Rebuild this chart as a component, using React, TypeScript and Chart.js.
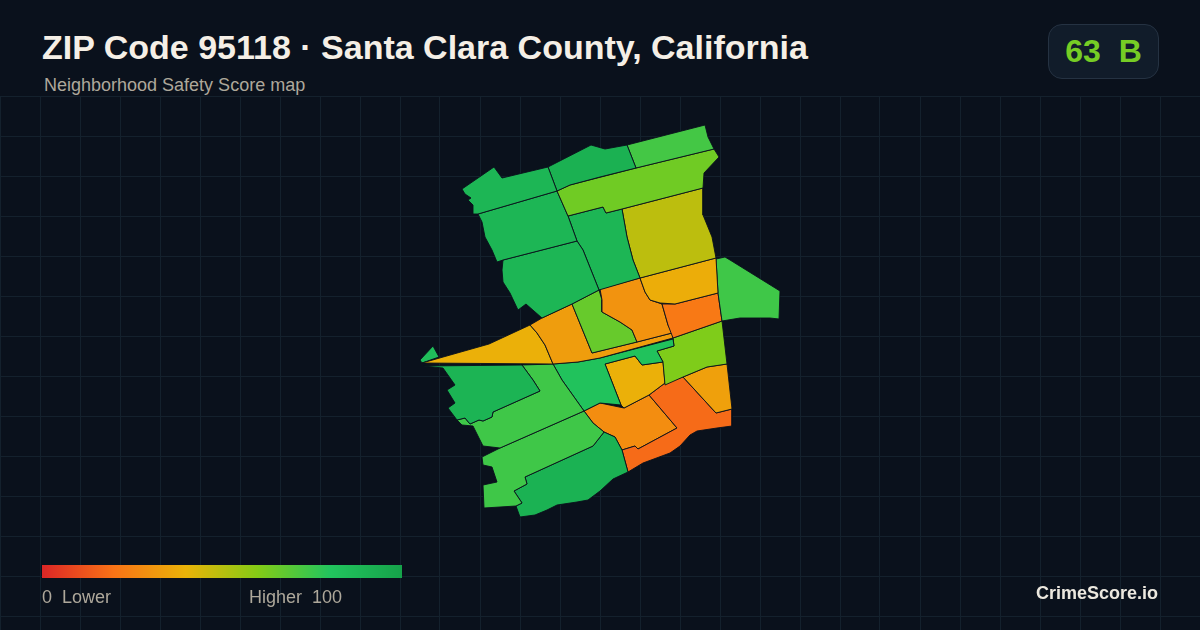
import React, { useEffect, useRef } from "react";
import { Chart, registerables } from "chart.js";

Chart.register(...registerables);

const xGrid = [0,40,80,120,160,200,240,280,320,360,400,440,480,520,560,600,640,680,720,760,800,840,880,920,960,1000,1040,1080,1120,1160,1200];
const yGrid = [96,136,176,216,256,296,336,376,416,456,496,536,576,616];

const rampStops = [0, 20, 40, 60, 80, 100];
const rampColors = ["#dc2626", "#f97316", "#eab308", "#84cc16", "#22c55e", "#16a34a"];

const tractNames = ["A","B","C","D","E","F","G","H","I","J","K","L","M","N","O","P","Q","R","S","T","U","V","W","X","Y","Z"];
const tractScores = [89,92,73,64,89,89,89,49,38,74,22,30,66,33,39,84,90,74,74,91,82,61,39,34,18,28];
const tractShapes: number[][] = [
  [462,189,494,167,502,178,548,167,557,191,478,214,473,214,473,205,468,200,471,198,465,194],
  [548,167,591,145,605,149,627,145,636,168,600,177,570,185,557,191],
  [627,145,705,125,708,137,714,149,636,168],
  [557,191,570,185,636,168,714,149,719,157,704,173,703,188,622,209,606,213,603,207,568,216],
  [478,214,557,191,568,216,577,241,542,250,503,260,497,262,492,250,485,237,482,222],
  [503,260,542,250,577,241,583,250,599,290,572,304,542,318,526,304,518,310,510,293,503,282,502,270],
  [568,216,603,207,606,213,622,209,627,237,633,260,640,278,599,290,583,250,577,241],
  [622,209,703,188,703,215,712,237,716,258,640,278,633,260,627,237],
  [640,278,716,258,718,293,675,304,660,303,650,300,645,292],
  [716,259,725,257,730,260,780,291,779,319,770,318,740,318,722,321,718,293],
  [662,304,675,304,718,293,722,321,673,338,668,325],
  [600,289,640,278,645,292,650,300,662,304,668,325,672,333,637,342,632,330,620,322,602,312,602,300],
  [572,304,599,290,602,300,602,312,620,322,632,330,637,342,592,353],
  [530,325,542,318,572,304,592,353,600,351,637,342,672,333,673,338,600,358,578,362,553,364,545,345,537,333],
  [422,363,489,344,530,325,537,333,545,345,553,364],
  [420,360,433,346,439,357,422,363],
  [423,366,522,365,533,380,540,391,493,412,492,417,483,421,479,420,470,424,465,418,457,420,448,408,455,403,447,390,455,385,443,368],
  [522,365,553,364,562,380,584,411,500,448,483,446,473,426,462,425,457,420,465,418,470,424,479,420,483,421,492,417,493,412,540,391,533,380],
  [500,448,584,411,593,423,604,432,593,446,525,477,527,484,514,491,522,503,516,506,484,508,483,485,497,482,492,467,483,465,482,457],
  [525,477,593,446,604,432,615,437,622,450,628,472,613,479,600,491,588,500,577,502,557,505,547,510,535,515,520,517,516,506,522,503,514,491,527,484],
  [553,364,578,362,600,358,673,339,674,346,657,351,663,362,642,365,635,356,605,364,621,405,600,403,584,411,562,380],
  [673,338,722,321,727,364,707,367,683,377,665,385,663,362,657,351,674,346],
  [605,364,635,356,642,365,663,362,665,383,649,395,624,408,621,405],
  [683,377,707,367,727,364,732,409,716,413],
  [649,395,665,383,683,377,716,413,732,409,732,426,717,428,697,431,690,435,680,446,670,453,643,463,628,472,622,450,635,446,638,449,677,428],
  [600,403,624,408,649,395,677,428,638,449,635,446,622,450,615,437,604,432,593,423,584,411],
];

const titleText = "ZIP Code 95118 · Santa Clara County, California";
const subtitleText = "Neighborhood Safety Score map";
const badgeText = "63\u00a0\u00a0B";
const legendLow = "0\u00a0\u00a0Lower";
const legendHigh = "Higher\u00a0\u00a0100";
const brandText = "CrimeScore.io";

function hexToRgb(h: string) {
  return [1, 3, 5].map((i) => parseInt(h.slice(i, i + 2), 16));
}
function scoreColor(v: number) {
  let i = 0;
  while (i < rampStops.length - 2 && v > rampStops[i + 1]) i++;
  const t = (v - rampStops[i]) / (rampStops[i + 1] - rampStops[i]);
  const a = hexToRgb(rampColors[i]);
  const b = hexToRgb(rampColors[i + 1]);
  const c = a.map((x, k) => Math.round(x + (b[k] - x) * t));
  return `rgb(${c[0]},${c[1]},${c[2]})`;
}
function toPoints(flat: number[]) {
  const pts: { x: number; y: number }[] = [];
  for (let i = 0; i < flat.length; i += 2) pts.push({ x: flat[i], y: flat[i + 1] });
  pts.push({ x: flat[0], y: flat[1] });
  return pts;
}

const BG = "#0a111c";
const GRID = "#14212d";
const MUTED = "#aea89b";
const FONT = '"Liberation Sans", Arial, sans-serif';

export default function App() {
  const ref = useRef<HTMLCanvasElement | null>(null);
  useEffect(() => {
    if (!ref.current) return;
    const chart = new Chart(ref.current, {
      type: "scatter",
      data: {
        datasets: tractShapes.map((s, i) => ({
          label: tractNames[i],
          data: toPoints(s),
          showLine: true,
          fill: "shape",
          tension: 0,
          backgroundColor: scoreColor(tractScores[i]),
          borderColor: BG,
          borderWidth: 0.9,
          pointRadius: 0,
          pointHoverRadius: 0,
        })),
      },
      options: {
        animation: false,
        responsive: false,
        devicePixelRatio: 1,
        layout: { padding: 0 },
        plugins: { legend: { display: false }, tooltip: { enabled: false }, title: { display: false } },
        scales: {
          x: {
            type: "linear",
            min: 0,
            max: 1200,
            border: { display: false },
            afterBuildTicks: (sc: any) => { sc.ticks = xGrid.map((value) => ({ value })); },
            ticks: { display: false },
            grid: { color: GRID, lineWidth: 1, drawTicks: false },
          },
          y: {
            type: "linear",
            reverse: true,
            min: 96,
            max: 630,
            border: { display: false },
            afterBuildTicks: (sc: any) => { sc.ticks = yGrid.map((value) => ({ value })); },
            ticks: { display: false },
            grid: { color: GRID, lineWidth: 1, drawTicks: false },
          },
        },
      },
    } as any);
    return () => chart.destroy();
  }, []);

  const abs = (o: React.CSSProperties): React.CSSProperties => ({ position: "absolute", whiteSpace: "nowrap", fontFamily: FONT, ...o });
  const gradient = `linear-gradient(90deg, ${rampColors.map((c, i) => `${c} ${rampStops[i]}%`).join(", ")})`;

  return (
    <div style={{ position: "fixed", left: 0, top: 0, width: 1200, height: 630, background: BG, overflow: "hidden" }}>
      <canvas ref={ref} width={1200} height={534} style={{ position: "absolute", left: 0, top: 96, width: 1200, height: 534 }} />
      <div style={abs({ left: 42, top: 28, fontSize: 34, lineHeight: "38px", fontWeight: 700, color: "#f5efe6" })}>{titleText}</div>
      <div style={abs({ left: 44, top: 75, fontSize: 18, lineHeight: "20px", color: MUTED })}>{subtitleText}</div>
      <div style={abs({ left: 1048, top: 24, width: 111, height: 55, boxSizing: "border-box", background: "#111c2a", border: "1px solid #253242", borderRadius: 14, color: "#76cc25", fontSize: 32, fontWeight: 700, lineHeight: "53px", textAlign: "center" })}>{badgeText}</div>
      <div style={abs({ left: 42, top: 587, fontSize: 18, lineHeight: "20px", color: MUTED })}>{legendLow}</div>
      <div style={abs({ left: 249, top: 587, fontSize: 18, lineHeight: "20px", color: MUTED })}>{legendHigh}</div>
      <div style={abs({ left: 42, top: 565, width: 360, height: 13, background: gradient })} />
      <div style={abs({ left: 1036, top: 583, fontSize: 18, lineHeight: "20px", fontWeight: 700, color: "#ece8df" })}>{brandText}</div>
    </div>
  );
}
